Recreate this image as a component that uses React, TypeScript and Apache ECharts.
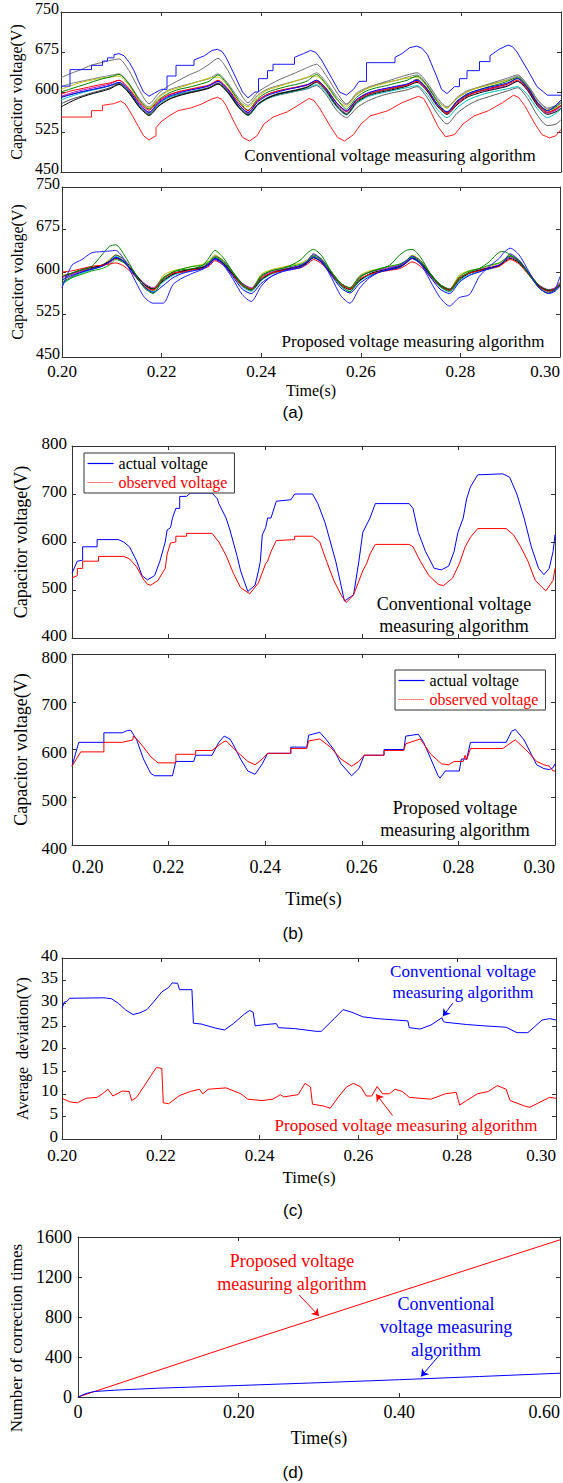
import React, { useEffect, useRef } from "react";
import * as echarts from "echarts";

// ---------- (a) capacitor voltages, conventional measuring ----------
const convTimes = [
  0.2000, 0.2020, 0.2040, 0.2060, 0.2080, 0.2098, 0.2116, 0.2136, 0.2156, 0.2176,
  0.2196, 0.2216, 0.2236, 0.2256, 0.2276, 0.2296, 0.2314, 0.2334, 0.2354, 0.2374,
  0.2394, 0.2414, 0.2434, 0.2454, 0.2474, 0.2493, 0.2511, 0.2531, 0.2551, 0.2571,
  0.2591, 0.2611, 0.2631, 0.2651, 0.2671, 0.2692, 0.2712, 0.2732, 0.2752, 0.2772,
  0.2792, 0.2812, 0.2832, 0.2852, 0.2872, 0.2893, 0.2913, 0.2933, 0.2953, 0.2973,
  0.2990, 0.3000,
];
const convSmGreen = [
  600, 606, 612, 618, 624, 628, 633, 615, 586, 568,
  586, 598, 605, 609, 614, 620, 632, 613, 586, 566,
  588, 600, 606, 611, 615, 621, 633, 614, 588, 568,
  590, 602, 608, 612, 617, 622, 630, 612, 583, 562,
  582, 596, 603, 609, 614, 620, 628, 610, 580, 565,
  572, 580,
];
const convSmCyan = [
  585, 592, 598, 603, 607, 612, 618, 602, 575, 558,
  578, 590, 596, 600, 604, 608, 616, 600, 574, 556,
  576, 588, 595, 599, 603, 607, 614, 598, 572, 557,
  578, 590, 596, 600, 604, 608, 612, 596, 568, 552,
  570, 584, 592, 598, 602, 606, 610, 595, 568, 552,
  560, 568,
];
const convSmMagenta = [
  592, 598, 603, 607, 611, 615, 622, 606, 580, 562,
  582, 594, 600, 604, 607, 611, 620, 604, 578, 561,
  584, 596, 602, 606, 609, 613, 622, 605, 580, 563,
  585, 597, 603, 607, 610, 614, 621, 604, 577, 560,
  580, 593, 600, 604, 608, 612, 620, 604, 576, 560,
  566, 574,
];
const convSmOlive = [
  605, 612, 618, 622, 626, 628, 630, 612, 584, 570,
  590, 602, 608, 614, 620, 626, 628, 611, 585, 572,
  592, 604, 610, 616, 622, 628, 630, 612, 586, 573,
  595, 606, 612, 617, 622, 626, 628, 610, 584, 570,
  588, 600, 607, 612, 617, 622, 625, 608, 580, 566,
  570, 576,
];
const convSmDark = [
  578, 586, 592, 598, 603, 608, 615, 600, 574, 558,
  575, 587, 594, 599, 603, 608, 617, 601, 575, 559,
  578, 590, 597, 601, 605, 610, 620, 603, 576, 560,
  582, 594, 600, 604, 608, 613, 624, 606, 578, 562,
  582, 594, 601, 606, 610, 615, 626, 608, 578, 562,
  568, 575,
];
const convSmBlue = [
  590, 595, 600, 604, 608, 612, 618, 603, 577, 562,
  580, 592, 598, 603, 607, 612, 620, 604, 578, 562,
  582, 594, 600, 605, 609, 614, 622, 606, 580, 565,
  586, 597, 603, 607, 611, 615, 622, 606, 578, 563,
  583, 596, 603, 608, 612, 617, 625, 608, 580, 565,
  575, 585,
];
const convSmRed = [
  596, 602, 606, 610, 614, 617, 622, 606, 582, 566,
  584, 595, 601, 605, 609, 613, 622, 606, 582, 565,
  585, 596, 602, 606, 610, 614, 620, 605, 580, 564,
  584, 595, 601, 605, 609, 613, 620, 604, 577, 560,
  578, 592, 600, 605, 610, 615, 622, 606, 578, 562,
  568, 575,
];
const convSmGray = [
  610, 616, 620, 624, 628, 631, 634, 616, 588, 572,
  592, 604, 610, 615, 620, 625, 634, 616, 590, 575,
  595, 606, 612, 617, 622, 627, 636, 618, 592, 576,
  598, 608, 614, 618, 622, 628, 632, 614, 586, 570,
  590, 602, 608, 613, 618, 623, 630, 612, 584, 568,
  574, 580,
];
const convSmBlack = [
  572, 582, 590, 596, 601, 606, 614, 598, 572, 556,
  574, 586, 593, 598, 602, 607, 615, 599, 573, 557,
  577, 589, 596, 600, 604, 609, 618, 601, 574, 558,
  580, 592, 598, 602, 606, 611, 618, 602, 574, 558,
  576, 590, 597, 602, 606, 611, 620, 603, 574, 558,
  563, 570,
];
const convSmGrayHigh = [
  627, 635, 642, 650, 655, 659, 662, 640, 605, 578,
  598, 612, 622, 632, 640, 652, 663, 640, 605, 580,
  600, 612, 622, 630, 638, 646, 652, 630, 600, 578,
  595, 606, 614, 620, 626, 632, 636, 618, 590, 572,
  588, 600, 608, 614, 620, 626, 632, 614, 586, 570,
  575, 585,
];
const convSmGrayLow = [
  590, 596, 600, 604, 608, 612, 616, 600, 574, 560,
  578, 590, 596, 600, 604, 608, 615, 598, 572, 556,
  576, 588, 594, 598, 602, 606, 612, 594, 566, 552,
  570, 582, 590, 596, 600, 604, 610, 590, 560, 540,
  560, 574, 584, 590, 596, 602, 608, 588, 556, 537,
  540, 548,
];
// highest and lowest submodules, stepwise
const convSmTop = [
  [0.2000, 611], [0.2018, 611], [0.2018, 642], [0.2061, 642], [0.2061, 650], [0.2083, 650],
  [0.2083, 658], [0.2093, 658], [0.2093, 664], [0.2106, 664], [0.2106, 670], [0.2116, 672],
  [0.2126, 668], [0.2137, 655], [0.2146, 640], [0.2155, 620], [0.2165, 600], [0.2176, 592],
  [0.2187, 598], [0.2201, 605], [0.2212, 605], [0.2212, 630], [0.2230, 630], [0.2230, 650],
  [0.2266, 650], [0.2266, 660], [0.2287, 668], [0.2302, 678], [0.2313, 680], [0.2322, 676],
  [0.2330, 665], [0.2348, 630], [0.2363, 600], [0.2374, 589], [0.2388, 600], [0.2395, 600],
  [0.2395, 625], [0.2413, 625], [0.2413, 640], [0.2424, 640], [0.2424, 652], [0.2467, 652],
  [0.2467, 665], [0.2485, 672], [0.2499, 678], [0.2510, 674], [0.2521, 660], [0.2542, 625],
  [0.2557, 600], [0.2571, 594], [0.2585, 605], [0.2596, 620], [0.2611, 620], [0.2611, 655],
  [0.2668, 655], [0.2668, 665], [0.2682, 672], [0.2697, 683], [0.2711, 686], [0.2722, 682],
  [0.2733, 670], [0.2751, 630], [0.2761, 605], [0.2772, 597], [0.2787, 610], [0.2797, 610],
  [0.2797, 625], [0.2812, 625], [0.2812, 640], [0.2837, 640], [0.2837, 657], [0.2858, 657],
  [0.2858, 668], [0.2876, 680], [0.2894, 688], [0.2903, 685], [0.2912, 675], [0.2934, 640],
  [0.2952, 610], [0.2973, 594], [0.3000, 594],
];
const convSmBottom = [
  [0.2000, 553], [0.2061, 553], [0.2061, 565], [0.2083, 565], [0.2083, 575], [0.2105, 578],
  [0.2119, 583], [0.2128, 578], [0.2137, 565], [0.2155, 535], [0.2165, 518], [0.2176, 510],
  [0.2190, 518], [0.2190, 533], [0.2201, 545], [0.2216, 555], [0.2234, 565], [0.2259, 570],
  [0.2280, 577], [0.2302, 587], [0.2313, 590], [0.2322, 586], [0.2330, 575], [0.2348, 540],
  [0.2363, 515], [0.2377, 508], [0.2392, 518], [0.2406, 540], [0.2424, 553], [0.2453, 563],
  [0.2474, 575], [0.2496, 588], [0.2506, 584], [0.2517, 570], [0.2539, 535], [0.2553, 515],
  [0.2567, 508], [0.2585, 520], [0.2600, 540], [0.2618, 555], [0.2654, 565], [0.2682, 580],
  [0.2715, 592], [0.2725, 588], [0.2736, 570], [0.2754, 535], [0.2769, 516], [0.2787, 520],
  [0.2804, 540], [0.2826, 555], [0.2855, 565], [0.2883, 580], [0.2905, 594], [0.2915, 590],
  [0.2927, 575], [0.2948, 540], [0.2962, 520], [0.2977, 514], [0.2990, 518], [0.3000, 530],
];

// ---------- (a) capacitor voltages, proposed measuring ----------
const propTimes = [
  0.2000, 0.2020, 0.2040, 0.2060, 0.2080, 0.2095, 0.2108, 0.2125, 0.2145, 0.2165, 0.2183,
  0.2203, 0.2223, 0.2243, 0.2263, 0.2283, 0.2295, 0.2307, 0.2324, 0.2343, 0.2362, 0.2380,
  0.2400, 0.2420, 0.2440, 0.2460, 0.2480, 0.2493, 0.2505, 0.2522, 0.2541, 0.2560, 0.2578,
  0.2598, 0.2618, 0.2638, 0.2658, 0.2678, 0.2691, 0.2703, 0.2720, 0.2739, 0.2759, 0.2778,
  0.2798, 0.2818, 0.2838, 0.2858, 0.2878, 0.2888, 0.2900, 0.2918, 0.2938, 0.2958, 0.2977,
  0.2990, 0.3000,
];
const propSmBlue = [
  572, 612, 622, 634, 636, 637, 638, 622, 588, 556, 545,
  545, 578, 590, 598, 605, 612, 622, 612, 588, 560, 548,
  575, 592, 600, 606, 612, 620, 632, 620, 590, 558, 545,
  572, 590, 600, 606, 612, 620, 628, 615, 585, 555, 540,
  555, 560, 592, 610, 624, 635, 642, 630, 600, 572, 562,
  570, 592,
];
const propSmGreen = [
  585, 598, 604, 610, 630, 645, 648, 630, 600, 572, 562,
  588, 600, 604, 606, 612, 625, 638, 625, 600, 578, 568,
  592, 602, 606, 612, 622, 634, 640, 628, 600, 576, 565,
  590, 600, 605, 612, 630, 638, 640, 626, 598, 575, 566,
  588, 600, 606, 618, 635, 636, 630, 618, 595, 572, 563,
  568, 580,
];
const propSmRed = [
  600, 602, 606, 610, 612, 614, 616, 610, 594, 575, 568,
  588, 598, 600, 604, 606, 610, 620, 612, 594, 576, 570,
  590, 598, 602, 605, 608, 614, 622, 614, 595, 578, 570,
  588, 596, 600, 603, 606, 612, 618, 610, 592, 575, 568,
  590, 598, 602, 606, 610, 616, 622, 614, 594, 574, 566,
  570, 578,
];
const propSmCyan = [
  578, 590, 598, 604, 610, 618, 628, 618, 596, 574, 565,
  582, 594, 600, 604, 608, 616, 626, 616, 594, 574, 566,
  585, 596, 602, 606, 610, 618, 628, 618, 596, 575, 566,
  584, 594, 600, 604, 608, 616, 626, 616, 594, 574, 565,
  584, 595, 601, 605, 610, 618, 628, 618, 596, 574, 565,
  568, 576,
];
const propSmMagenta = [
  590, 596, 602, 606, 610, 616, 624, 616, 598, 580, 572,
  590, 598, 602, 606, 609, 615, 623, 615, 597, 580, 572,
  592, 600, 604, 608, 612, 618, 626, 618, 598, 580, 572,
  592, 600, 604, 608, 612, 618, 624, 616, 596, 578, 570,
  590, 598, 604, 608, 613, 619, 626, 617, 597, 577, 569,
  572, 582,
];
const propSmOlive = [
  594, 598, 602, 606, 612, 622, 630, 620, 596, 574, 566,
  594, 602, 606, 610, 614, 620, 630, 620, 598, 578, 570,
  596, 604, 608, 612, 616, 622, 632, 622, 600, 580, 572,
  594, 602, 606, 610, 614, 620, 630, 620, 598, 578, 570,
  595, 602, 606, 610, 616, 622, 630, 620, 598, 576, 568,
  572, 580,
];
const propSmDark = [
  582, 592, 600, 606, 612, 620, 630, 622, 600, 578, 568,
  586, 596, 601, 605, 609, 617, 628, 620, 600, 580, 570,
  588, 597, 602, 606, 610, 618, 630, 622, 600, 580, 571,
  586, 596, 601, 605, 609, 617, 628, 620, 598, 578, 569,
  588, 598, 603, 607, 612, 620, 628, 620, 598, 576, 568,
  570, 578,
];
const propSmBlue2 = [
  586, 594, 600, 605, 610, 618, 626, 618, 596, 574, 564,
  576, 590, 598, 602, 606, 614, 624, 614, 592, 570, 562,
  580, 592, 600, 604, 608, 616, 626, 616, 594, 572, 563,
  580, 592, 600, 604, 608, 616, 624, 614, 592, 570, 562,
  582, 594, 600, 606, 612, 620, 632, 620, 596, 572, 562,
  566, 575,
];
const propSmGreen2 = [
  580, 590, 596, 602, 606, 612, 622, 616, 598, 578, 570,
  590, 600, 606, 610, 612, 618, 626, 618, 598, 578, 570,
  594, 602, 606, 610, 614, 620, 628, 620, 600, 580, 572,
  592, 600, 606, 610, 614, 620, 626, 618, 598, 578, 570,
  592, 602, 606, 612, 616, 622, 628, 620, 598, 576, 568,
  570, 578,
];
const propSmBlack = [
  592, 598, 604, 608, 612, 618, 625, 618, 598, 578, 570,
  584, 596, 602, 605, 608, 614, 624, 616, 596, 576, 568,
  586, 598, 603, 607, 611, 617, 625, 617, 597, 577, 569,
  585, 597, 602, 606, 610, 616, 624, 616, 596, 576, 568,
  586, 598, 603, 607, 611, 617, 624, 616, 596, 575, 567,
  569, 577,
];

// ---------- (b) actual vs observed voltage of one submodule ----------
const bConvActual = [
  [0.2000, 535], [0.2011, 560], [0.2022, 562], [0.2022, 590], [0.2052, 590], [0.2052, 605],
  [0.2096, 605], [0.2107, 600], [0.2119, 590], [0.2134, 560], [0.2145, 530], [0.2156, 521],
  [0.2171, 530], [0.2182, 560], [0.2193, 600], [0.2197, 625], [0.2204, 630], [0.2208, 650],
  [0.2215, 670], [0.2223, 670], [0.2223, 695], [0.2237, 695], [0.2245, 702], [0.2290, 702],
  [0.2301, 690], [0.2304, 680], [0.2319, 650], [0.2327, 625], [0.2342, 570], [0.2349, 540],
  [0.2364, 497], [0.2379, 510], [0.2386, 540], [0.2390, 560], [0.2394, 615], [0.2401, 630],
  [0.2405, 650], [0.2412, 650], [0.2423, 685], [0.2453, 688], [0.2461, 700], [0.2498, 700],
  [0.2509, 680], [0.2524, 640], [0.2535, 600], [0.2546, 560], [0.2557, 510], [0.2564, 477],
  [0.2583, 490], [0.2594, 560], [0.2602, 620], [0.2617, 650], [0.2628, 680], [0.2698, 680],
  [0.2706, 670], [0.2717, 620], [0.2732, 580], [0.2750, 545], [0.2765, 542], [0.2780, 550],
  [0.2791, 580], [0.2799, 620], [0.2810, 650], [0.2817, 690], [0.2825, 715], [0.2840, 740],
  [0.2892, 742], [0.2906, 735], [0.2921, 700], [0.2936, 650], [0.2951, 590], [0.2966, 545],
  [0.2977, 532], [0.2988, 545], [0.2996, 580], [0.3000, 615],
];
const bConvObserved = [
  [0.2000, 525], [0.2011, 530], [0.2011, 545], [0.2022, 545], [0.2022, 560], [0.2055, 560],
  [0.2055, 570], [0.2107, 570], [0.2119, 565], [0.2134, 548], [0.2148, 522], [0.2156, 512],
  [0.2163, 510], [0.2178, 520], [0.2193, 545], [0.2197, 575], [0.2204, 598], [0.2215, 600],
  [0.2215, 612], [0.2237, 612], [0.2237, 618], [0.2290, 618], [0.2304, 600], [0.2319, 572],
  [0.2334, 535], [0.2349, 505], [0.2368, 492], [0.2386, 515], [0.2401, 555], [0.2405, 560],
  [0.2412, 580], [0.2423, 603], [0.2461, 605], [0.2461, 612], [0.2498, 612], [0.2513, 600],
  [0.2527, 560], [0.2542, 520], [0.2557, 490], [0.2568, 474], [0.2583, 490], [0.2602, 540],
  [0.2610, 555], [0.2617, 575], [0.2628, 595], [0.2698, 595], [0.2706, 590], [0.2721, 560],
  [0.2739, 530], [0.2758, 512], [0.2769, 509], [0.2788, 525], [0.2802, 555], [0.2814, 590],
  [0.2825, 610], [0.2840, 628], [0.2899, 628], [0.2914, 615], [0.2929, 590], [0.2944, 560],
  [0.2959, 520], [0.2981, 498], [0.2996, 520], [0.3000, 545],
];
const bPropActual = [
  [0.2000, 565], [0.2014, 615], [0.2066, 615], [0.2066, 635], [0.2104, 635], [0.2115, 640],
  [0.2122, 640], [0.2134, 620], [0.2148, 580], [0.2163, 550], [0.2171, 545], [0.2208, 545],
  [0.2215, 575], [0.2252, 575], [0.2256, 588], [0.2290, 588], [0.2304, 615], [0.2315, 628],
  [0.2327, 622], [0.2334, 610], [0.2349, 580], [0.2364, 555], [0.2379, 548], [0.2394, 570],
  [0.2405, 592], [0.2453, 592], [0.2453, 605], [0.2486, 605], [0.2490, 630], [0.2513, 636],
  [0.2527, 620], [0.2542, 600], [0.2557, 570], [0.2579, 545], [0.2594, 560], [0.2605, 588],
  [0.2646, 588], [0.2646, 600], [0.2687, 600], [0.2691, 628], [0.2717, 632], [0.2728, 615],
  [0.2743, 580], [0.2758, 545], [0.2762, 540], [0.2773, 555], [0.2802, 555], [0.2806, 580],
  [0.2817, 580], [0.2825, 615], [0.2899, 615], [0.2910, 638], [0.2918, 642], [0.2936, 620],
  [0.2951, 590], [0.2962, 568], [0.2977, 560], [0.2988, 558], [0.2996, 562], [0.3000, 570],
];
const bPropObserved = [
  [0.2000, 565], [0.2018, 595], [0.2066, 595], [0.2066, 615], [0.2104, 615], [0.2126, 620],
  [0.2127, 628], [0.2134, 622], [0.2148, 605], [0.2163, 585], [0.2178, 572], [0.2215, 572],
  [0.2215, 590], [0.2256, 590], [0.2256, 598], [0.2290, 598], [0.2312, 615], [0.2319, 618],
  [0.2342, 595], [0.2364, 575], [0.2379, 568], [0.2394, 580], [0.2405, 592], [0.2453, 592],
  [0.2453, 602], [0.2486, 602], [0.2490, 618], [0.2513, 622], [0.2535, 605], [0.2557, 580],
  [0.2579, 565], [0.2594, 575], [0.2605, 588], [0.2646, 588], [0.2646, 598], [0.2687, 598],
  [0.2691, 612], [0.2721, 622], [0.2743, 590], [0.2765, 570], [0.2780, 568], [0.2791, 575],
  [0.2810, 575], [0.2814, 588], [0.2817, 578], [0.2825, 602], [0.2892, 602], [0.2914, 618],
  [0.2918, 620], [0.2944, 595], [0.2962, 575], [0.2977, 568], [0.2988, 565], [0.2996, 555],
  [0.3000, 555],
];

// ---------- (c) average deviation ----------
const devConventional = [
  [0.2000, 28.9], [0.2005, 30.3], [0.2010, 30.4], [0.2015, 31.1], [0.2085, 31.2], [0.2100, 31.0],
  [0.2114, 30.0], [0.2129, 28.5], [0.2144, 27.5], [0.2158, 27.9], [0.2172, 28.6], [0.2187, 30.5],
  [0.2202, 32.5], [0.2216, 33.5], [0.2223, 34.5], [0.2234, 34.4], [0.2238, 33.0], [0.2263, 33.0],
  [0.2266, 25.6], [0.2282, 25.4], [0.2311, 24.5], [0.2329, 24.1], [0.2347, 25.5], [0.2369, 27.6],
  [0.2380, 28.4], [0.2387, 28.0], [0.2391, 25.0], [0.2412, 25.3], [0.2434, 25.5], [0.2438, 24.6],
  [0.2471, 24.4], [0.2514, 23.8], [0.2525, 23.8], [0.2551, 26.6], [0.2569, 28.6], [0.2587, 28.0],
  [0.2609, 27.0], [0.2638, 26.6], [0.2700, 26.1], [0.2703, 24.6], [0.2725, 24.3], [0.2747, 25.2],
  [0.2769, 26.8], [0.2772, 26.0], [0.2776, 25.8], [0.2819, 25.3], [0.2856, 25.0], [0.2899, 24.7],
  [0.2921, 23.5], [0.2943, 23.5], [0.2972, 26.3], [0.2987, 26.6], [0.3000, 26.3],
];
const devProposed = [
  [0.2000, 9.0], [0.2016, 8.2], [0.2031, 8.0], [0.2049, 9.0], [0.2071, 9.2], [0.2082, 10.0],
  [0.2093, 11.0], [0.2103, 9.5], [0.2122, 10.6], [0.2136, 10.5], [0.2141, 8.5], [0.2151, 9.2],
  [0.2165, 11.5], [0.2180, 14.0], [0.2191, 15.8], [0.2202, 15.6], [0.2205, 8.0], [0.2216, 7.8],
  [0.2238, 9.6], [0.2260, 10.5], [0.2278, 11.0], [0.2285, 10.0], [0.2296, 11.0], [0.2332, 11.3],
  [0.2362, 10.0], [0.2376, 8.8], [0.2405, 8.5], [0.2427, 8.8], [0.2442, 9.8], [0.2449, 9.3],
  [0.2478, 9.8], [0.2492, 12.3], [0.2503, 11.5], [0.2507, 7.7], [0.2529, 7.3], [0.2543, 6.8],
  [0.2561, 9.5], [0.2576, 11.5], [0.2590, 12.3], [0.2605, 11.5], [0.2616, 9.5], [0.2627, 9.5],
  [0.2638, 11.6], [0.2649, 10.0], [0.2663, 10.0], [0.2674, 11.0], [0.2689, 10.5], [0.2703, 9.2],
  [0.2747, 8.8], [0.2776, 10.0], [0.2798, 10.3], [0.2805, 7.5], [0.2819, 8.5], [0.2841, 10.0],
  [0.2863, 10.5], [0.2881, 11.8], [0.2899, 11.0], [0.2907, 8.5], [0.2936, 7.3], [0.2947, 7.0],
  [0.2965, 8.0], [0.2987, 9.2], [0.3000, 9.0],
];

// ---------- (d) cumulative number of corrections ----------
const corrProposed = [[0, 0], [0.2, 533], [0.4, 1053], [0.6, 1572]];
const corrConventional = [
  [0, 0], [0.01, 35], [0.02, 55], [0.05, 70], [0.1, 88], [0.2, 115],
  [0.3, 143], [0.4, 173], [0.5, 205], [0.6, 238],
];

const SERIF = "'Liberation Serif', 'Times New Roman', serif";
const SANS = "'Liberation Sans', Arial, sans-serif";
const FRAME = "#333";

const fmt2 = (v: number) => (v === 0 ? "0" : v.toFixed(2));
const fmtInt = (v: number) => String(Math.round(v));

type XCfg = {
  min: number; max: number; interval: number; labels: boolean; fontSize?: number;
  margin?: number; name?: string; nameGap?: number; nameSize?: number; alignMin?: string;
};
type YCfg = {
  min: number; max: number; interval: number; fontSize: number; margin: number;
  name: string; nameGap: number; nameSize: number; namePad?: number[];
  labelVAlign?: string; labelLineHeight?: number;
};

function xPair(grid: number, c: XCfg) {
  const base: any = {
    type: "value", gridIndex: grid, min: c.min, max: c.max, interval: c.interval,
    axisLine: { show: true, onZero: false, lineStyle: { color: FRAME, width: 1 } },
    axisTick: { show: true, inside: true, length: 4, lineStyle: { color: FRAME } },
    splitLine: { show: false },
  };
  return [
    {
      ...base, position: "bottom",
      axisLabel: {
        show: c.labels, fontFamily: SERIF, fontSize: c.fontSize ?? 17, color: "#000",
        margin: c.margin ?? 6, formatter: fmt2, showMinLabel: true, showMaxLabel: true,
        alignMinLabel: c.alignMin ?? "center", alignMaxLabel: "right",
      },
      name: c.name ?? "", nameLocation: "middle", nameGap: c.nameGap ?? 25,
      nameTextStyle: { fontFamily: SERIF, fontSize: c.nameSize ?? 17, color: "#000" },
    },
    { ...base, position: "top", axisLabel: { show: false } },
  ];
}

function yPair(grid: number, c: YCfg) {
  const base: any = {
    type: "value", gridIndex: grid, min: c.min, max: c.max, interval: c.interval,
    axisLine: { show: true, onZero: false, lineStyle: { color: FRAME, width: 1 } },
    axisTick: { show: true, inside: true, length: 4, lineStyle: { color: FRAME } },
    splitLine: { show: false },
  };
  return [
    {
      ...base, position: "left",
      axisLabel: {
        show: true, fontFamily: SERIF, fontSize: c.fontSize, color: "#000", margin: c.margin,
        showMinLabel: true, showMaxLabel: true, formatter: fmtInt,
        verticalAlign: c.labelVAlign ?? "middle", lineHeight: c.labelLineHeight ?? 10,
      },
      name: c.name, nameLocation: "middle", nameGap: c.nameGap,
      nameTextStyle: {
        fontFamily: SERIF, fontSize: c.nameSize, color: "#000", padding: c.namePad ?? 0,
      },
    },
    { ...base, position: "right", axisLabel: { show: false } },
  ];
}

function line(name: string, data: number[][], color: string, g: number, extra: any = {}) {
  return {
    type: "line", name, data, xAxisIndex: g * 2, yAxisIndex: g * 2,
    symbol: "none", showSymbol: false, silent: true, animation: false,
    lineStyle: { color, width: 1 }, itemStyle: { color }, ...extra,
  };
}

const onGrid = (times: number[], vals: number[]) => times.map((t, i) => [t, vals[i]]);

function text(t: string, x: number, y: number, size: number, color = "#000", family = SERIF, lh?: number) {
  return {
    type: "text", x, y, z: 100, silent: true,
    style: {
      text: t, fill: color, fontSize: size, fontFamily: family,
      align: "center", verticalAlign: "middle", lineHeight: lh ?? size + 4,
    },
  };
}

function arrow(color: string, from: number[], to: number[]) {
  return {
    silent: true, symbol: ["none", "arrow"], symbolSize: 7, label: { show: false },
    lineStyle: { color, type: "solid", width: 1 },
    data: [[{ coord: from }, { coord: to }]],
  };
}

function buildOption() {
  const grids = [
    { left: 61, top: 11, width: 500, height: 161 },
    { left: 62, top: 187, width: 499, height: 170 },
    { left: 72, top: 446, width: 483, height: 192 },
    { left: 72, top: 654, width: 483, height: 191 },
    { left: 62, top: 958, width: 494, height: 181 },
    { left: 74, top: 1237, width: 488, height: 160 },
  ];

  const xAxis = [
    ...xPair(0, { min: 0.2, max: 0.3, interval: 0.02, labels: false }),
    ...xPair(1, { min: 0.2, max: 0.3, interval: 0.02, labels: true, fontSize: 17, margin: 6, name: "Time(s)", nameGap: 25, nameSize: 16 }),
    ...xPair(2, { min: 0.2, max: 0.3, interval: 0.02, labels: false }),
    ...xPair(3, { min: 0.2, max: 0.3, interval: 0.02, labels: true, fontSize: 18, margin: 13, name: "Time(s)", nameGap: 45, nameSize: 18, alignMin: "left" }),
    ...xPair(4, { min: 0.2, max: 0.3, interval: 0.02, labels: true, fontSize: 17, margin: 8, name: "Time(s)", nameGap: 30, nameSize: 17 }),
    ...xPair(5, { min: 0, max: 0.6, interval: 0.2, labels: true, fontSize: 18, margin: 6, name: "Time(s)", nameGap: 32, nameSize: 18 }),
  ];

  const yAxis = [
    ...yPair(0, { min: 450, max: 750, interval: 75, fontSize: 16, margin: 2, name: "Capacitor voltage(V)", nameGap: 31, nameSize: 16, labelVAlign: "bottom", labelLineHeight: 8 }),
    ...yPair(1, { min: 450, max: 750, interval: 75, fontSize: 16, margin: 2, name: "Capacitor voltage(V)", nameGap: 33, nameSize: 16, labelVAlign: "bottom", labelLineHeight: 8 }),
    ...yPair(2, { min: 400, max: 800, interval: 100, fontSize: 17, margin: 5, name: "Capacitor voltage(V)", nameGap: 42, nameSize: 18, labelVAlign: "bottom", labelLineHeight: 6 }),
    ...yPair(3, { min: 400, max: 800, interval: 100, fontSize: 17, margin: 5, name: "Capacitor voltage(V)", nameGap: 42, nameSize: 18, labelVAlign: "top", labelLineHeight: 6 }),
    ...yPair(4, { min: 0, max: 40, interval: 5, fontSize: 17, margin: 4, name: "Average  deviation(V)", nameGap: 26, nameSize: 16, labelVAlign: "bottom", labelLineHeight: 6 }),
    ...yPair(5, { min: 0, max: 1600, interval: 400, fontSize: 18, margin: 6, name: "Number of correction times", nameGap: 53, nameSize: 17, namePad: [0, 42, 0, 0] }),
  ];

  const smooth = { smooth: 0.25 };
  const series: any[] = [
    // (a) conventional
    line("c-gh", onGrid(convTimes, convSmGrayHigh), "#6e6e6e", 0, smooth),
    line("c-gl", onGrid(convTimes, convSmGrayLow), "#5a5a5a", 0, smooth),
    line("c-g", onGrid(convTimes, convSmGray), "#808080", 0, smooth),
    line("c-ol", onGrid(convTimes, convSmOlive), "#bfbf00", 0, smooth),
    line("c-cy", onGrid(convTimes, convSmCyan), "#00bfbf", 0, smooth),
    line("c-gr", onGrid(convTimes, convSmGreen), "#008000", 0, smooth),
    line("c-mg", onGrid(convTimes, convSmMagenta), "#bf00bf", 0, smooth),
    line("c-dk", onGrid(convTimes, convSmDark), "#404040", 0, smooth),
    line("c-bk", onGrid(convTimes, convSmBlack), "#000000", 0, smooth),
    line("c-rd", onGrid(convTimes, convSmRed), "#ff0000", 0, smooth),
    line("c-bl", onGrid(convTimes, convSmBlue), "#0000ff", 0, smooth),
    line("c-top", convSmTop, "#1a1aff", 0),
    line("c-bot", convSmBottom, "#ff2020", 0),
    // (a) proposed
    line("p-ol", onGrid(propTimes, propSmOlive), "#bfbf00", 1, smooth),
    line("p-cy", onGrid(propTimes, propSmCyan), "#00bfbf", 1, smooth),
    line("p-mg", onGrid(propTimes, propSmMagenta), "#bf00bf", 1, smooth),
    line("p-dk", onGrid(propTimes, propSmDark), "#404040", 1, smooth),
    line("p-g2", onGrid(propTimes, propSmGreen2), "#00a000", 1, smooth),
    line("p-bk", onGrid(propTimes, propSmBlack), "#000000", 1, smooth),
    line("p-rd", onGrid(propTimes, propSmRed), "#ff0000", 1, smooth),
    line("p-b2", onGrid(propTimes, propSmBlue2), "#0000ff", 1, smooth),
    line("p-gr", onGrid(propTimes, propSmGreen), "#008000", 1, smooth),
    line("p-bl", onGrid(propTimes, propSmBlue), "#2020ff", 1, smooth),
    // (b)
    line("actual voltage", bConvActual, "#0000ff", 2),
    line("observed voltage", bConvObserved, "#ff0000", 2),
    line("actual voltage", bPropActual, "#0000ff", 3),
    line("observed voltage", bPropObserved, "#ff0000", 3),
    // (c)
    line("conv-dev", devConventional, "#0000ff", 4, { markLine: arrow("#0000ff", [0.2791, 30.0], [0.2771, 27.1]) }),
    line("prop-dev", devProposed, "#ff0000", 4, { markLine: arrow("#ff0000", [0.2669, 5.2], [0.2636, 9.9]) }),
    // (d)
    line("prop-corr", corrProposed, "#ff0000", 5, { markLine: arrow("#ff0000", [0.2754, 1020], [0.300, 810]) }),
    line("conv-corr", corrConventional, "#0000ff", 5, { markLine: arrow("#0000ff", [0.450, 420], [0.427, 205]) }),
  ];

  const legendBase: any = {
    orient: "vertical", itemGap: 2, itemWidth: 26, itemHeight: 10,
    backgroundColor: "#fff", borderColor: FRAME, borderWidth: 1, borderRadius: 0,
    padding: [2, 7, 2, 3], selectedMode: false, z: 20,
    itemStyle: { opacity: 0, borderWidth: 0 },
    textStyle: { fontFamily: SERIF, fontSize: 16, color: "#000", lineHeight: 17 },
    data: [
      { name: "actual voltage", textStyle: { color: "#000" }, lineStyle: { width: 1.2 } },
      { name: "observed voltage", textStyle: { color: "#ff0000" }, lineStyle: { type: "dotted", width: 1 } },
    ],
  };

  const graphic = [
    text("Conventional voltage measuring algorithm", 390, 155, 17),
    text("Proposed voltage measuring algorithm", 413, 341, 17),
    text("(a)", 293, 412, 17, "#000", SANS),
    text("Conventional voltage\nmeasuring algorithm", 454, 615, 18, "#000", SERIF, 22),
    text("Proposed voltage\nmeasuring algorithm", 455, 819, 18, "#000", SERIF, 22),
    text("(b)", 293, 933, 17, "#000", SANS),
    text("Conventional voltage\nmeasuring algorithm", 463, 982, 17, "#0000ff", SERIF, 21),
    text("Proposed voltage measuring algorithm", 406, 1125, 17, "#ff0000"),
    text("(c)", 293, 1210, 17, "#000", SANS),
    text("Proposed voltage\nmeasuring algorithm", 292, 1272, 18, "#ff0000", SERIF, 23),
    text("Conventional\nvoltage measuring\nalgorithm", 446, 1327, 18, "#0000ff", SERIF, 23),
    text("(d)", 293, 1472, 17, "#000", SANS),
  ];

  return {
    animation: false,
    backgroundColor: "#fff",
    grid: grids,
    xAxis,
    yAxis,
    legend: [
      { ...legendBase, left: 84, top: 453 },
      { ...legendBase, left: 395, top: 670 },
    ],
    series,
    graphic,
  };
}

export default function App() {
  const ref = useRef<HTMLDivElement>(null);
  useEffect(() => {
    document.body.style.margin = "0";
    if (!ref.current) return;
    const chart = echarts.init(ref.current, undefined, { renderer: "svg" });
    chart.setOption(buildOption() as any);
    return () => chart.dispose();
  }, []);
  return <div ref={ref} style={{ width: 563, height: 1483 }} />;
}
